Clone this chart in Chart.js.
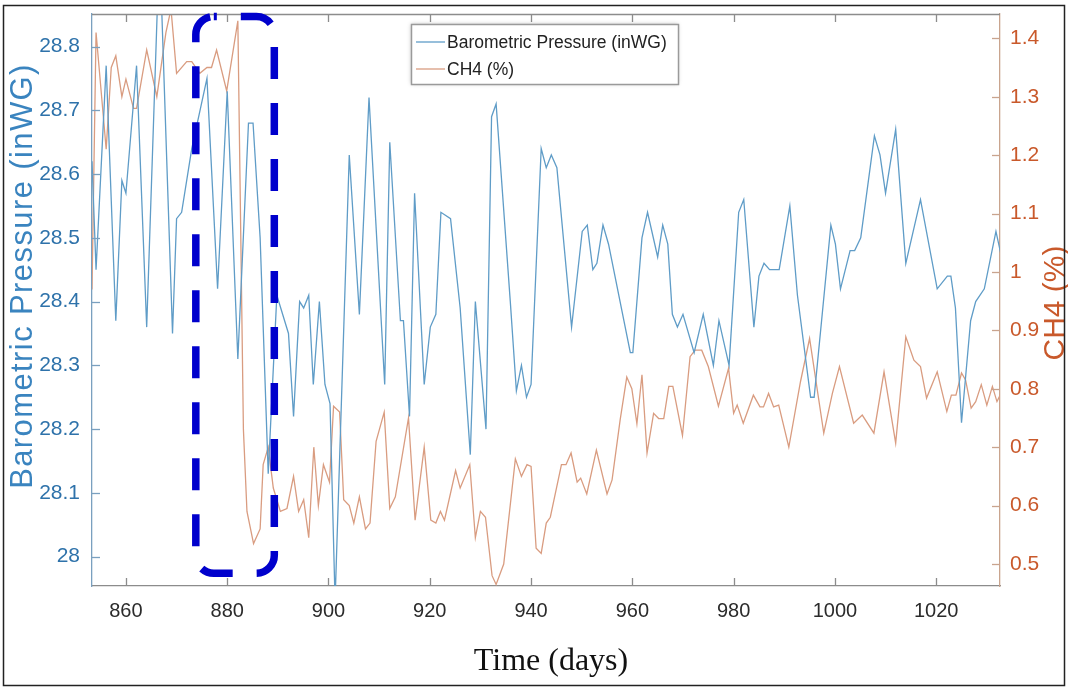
<!DOCTYPE html>
<html lang="en">
<head>
<meta charset="UTF-8">
<title>Barometric Pressure and CH4</title>
<script src="https://cdn.jsdelivr.net/npm/chart.js"></script>
<style>
  body { margin: 0; background: #fff; }
  .chart-container { position: relative; width: 1068px; height: 688px; }
</style>
</head>
<body>
<div class="chart-container"><canvas id="gasChart"></canvas></div>
<script>
// Barometric pressure (inWG) vs time (days)
const daysP = [853.3, 854.1, 856.1, 858.0, 859.2, 860.0, 862.1, 864.1, 866.2, 867.1, 869.2, 870.0, 871.0, 873.0,
  876.0, 878.1, 880.0, 882.1, 884.2, 885.1, 886.5, 888.1, 889.8, 892.1, 893.1, 894.3, 895.1, 896.1, 897.0,
  898.2, 899.3, 900.3, 901.3, 904.1, 906.1, 908.0, 911.1, 912.1, 914.2, 914.8, 916.0, 917.0, 918.9, 920.1,
  921.2, 922.2, 924.1, 926.0, 928.0, 929.0, 931.1, 932.2, 933.1, 935.9, 937.1, 938.1, 939.1, 940.0, 942.0,
  943.0, 944.0, 945.1, 948.0, 950.1, 951.1, 952.2, 953.0, 954.2, 955.3, 959.6, 960.1, 961.9, 963.0, 965.0,
  966.0, 967.0, 967.9, 968.9, 970.0, 972.2, 974.0, 976.0, 977.1, 979.1, 981.0, 982.0, 984.0, 985.0, 986.0,
  987.1, 989.0, 991.1, 992.6, 995.2, 995.9, 999.2, 1000.1, 1001.1, 1003.0, 1003.9, 1005.1, 1007.8, 1008.9,
  1010.0, 1012.0, 1014.0, 1016.9, 1020.2, 1022.2, 1022.9, 1023.8, 1025.0, 1026.8, 1027.8, 1029.5, 1031.8, 1032.9];
const pressure = [28.62, 28.45, 28.77, 28.37, 28.59, 28.57, 28.77, 28.36, 28.86, 28.85, 28.35, 28.53, 28.54, 28.64,
  28.75, 28.42, 28.73, 28.31, 28.68, 28.68, 28.50, 28.13, 28.41, 28.35, 28.22, 28.40, 28.39, 28.41, 28.27,
  28.40, 28.27, 28.24, 27.93, 28.63, 28.38, 28.72, 28.27, 28.65, 28.37, 28.37, 28.22, 28.57, 28.27, 28.36,
  28.38, 28.54, 28.53, 28.39, 28.16, 28.40, 28.20, 28.69, 28.71, 28.40, 28.26, 28.30, 28.25, 28.27, 28.64,
  28.61, 28.63, 28.61, 28.36, 28.51, 28.52, 28.45, 28.46, 28.52, 28.49, 28.32, 28.32, 28.50, 28.54, 28.47,
  28.52, 28.49, 28.38, 28.36, 28.38, 28.32, 28.38, 28.30, 28.37, 28.30, 28.54, 28.56, 28.36, 28.44, 28.46,
  28.45, 28.45, 28.55, 28.41, 28.25, 28.25, 28.52, 28.49, 28.42, 28.48, 28.48, 28.50, 28.66, 28.63,
  28.57, 28.67, 28.46, 28.56, 28.42, 28.44, 28.44, 28.39, 28.21, 28.37, 28.40, 28.42, 28.51, 28.47];

// CH4 (%) vs time (days)
const daysCH4 = [853.3, 854.1, 856.1, 857.1, 858.0, 859.2, 860.0, 861.5, 862.1, 864.1, 866.1, 867.9, 868.9, 870.0,
  872.0, 873.0, 874.6, 876.0, 876.9, 877.9, 879.9, 882.1, 883.2, 883.9, 885.2, 886.5, 887.1, 888.1, 889.1,
  890.5, 891.8, 893.1, 894.1, 895.1, 896.1, 897.1, 898.0, 899.0, 900.2, 901.0, 902.2, 903.0, 904.1, 905.0,
  906.1, 907.3, 908.2, 909.4, 911.0, 912.1, 913.2, 915.8, 917.1, 918.9, 920.2, 921.2, 922.1, 922.9, 925.1,
  926.0, 927.9, 929.0, 930.0, 931.0, 932.3, 933.1, 934.6, 936.9, 938.1, 939.2, 940.0, 941.0, 942.0, 943.0,
  943.8, 946.0, 946.9, 947.9, 949.1, 949.8, 951.0, 952.9, 955.0, 956.0, 957.6, 958.9, 959.9, 960.9, 961.9,
  962.9, 964.2, 965.2, 966.2, 967.2, 968.0, 969.9, 971.4, 972.4, 973.7, 975.0, 977.0, 979.0, 980.0, 980.7,
  981.9, 983.9, 985.2, 985.9, 986.9, 987.9, 988.9, 990.9, 993.2, 995.0, 997.8, 999.5, 1000.9, 1003.7, 1005.4,
  1007.7, 1009.7, 1012.0, 1014.0, 1015.6, 1016.9, 1018.1, 1020.2, 1022.1, 1023.0, 1023.9, 1025.0, 1025.8,
  1026.9, 1027.8, 1028.9, 1030.0, 1031.1, 1032.0, 1032.8];
const ch4 = [0.97, 1.41, 1.21, 1.35, 1.37, 1.30, 1.33, 1.28, 1.28, 1.38, 1.30, 1.41, 1.45, 1.34,
  1.36, 1.36, 1.34, 1.35, 1.35, 1.38, 1.31, 1.43, 0.73, 0.59, 0.535, 0.56, 0.67, 0.70, 0.63,
  0.59, 0.595, 0.65, 0.59, 0.61, 0.545, 0.70, 0.60, 0.67, 0.64, 0.77, 0.76, 0.61, 0.60, 0.57,
  0.615, 0.56, 0.57, 0.71, 0.76, 0.595, 0.615, 0.75, 0.575, 0.70, 0.575, 0.57, 0.59, 0.575, 0.66,
  0.63, 0.67, 0.545, 0.59, 0.58, 0.48, 0.465, 0.50, 0.68, 0.65, 0.67, 0.667, 0.527, 0.518, 0.57,
  0.58, 0.67, 0.67, 0.69, 0.64, 0.647, 0.62, 0.695, 0.62, 0.644, 0.747, 0.82, 0.80, 0.74, 0.824,
  0.69, 0.758, 0.749, 0.749, 0.804, 0.804, 0.72, 0.855, 0.866, 0.866, 0.838, 0.77, 0.835, 0.758, 0.772,
  0.741, 0.789, 0.769, 0.769, 0.792, 0.769, 0.772, 0.70, 0.812, 0.886, 0.724, 0.792, 0.838, 0.741, 0.755,
  0.724, 0.829, 0.707, 0.889, 0.849, 0.838, 0.784, 0.829, 0.761, 0.789, 0.789, 0.827, 0.815,
  0.767, 0.778, 0.807, 0.772, 0.804, 0.778, 0.792];

// highlighted window (days / inWG)
const highlightDays = [873.8, 889.3];
const highlightPressure = [27.974, 28.847];

const bluePressure = '#5f9cc7';
const orangeCH4 = '#d99c80';
const blueText = '#2e72aa';
const orangeText = '#c9592b';

const fmt = v => String(Math.round(v * 10) / 10);

// no extra room for the end tick labels, keep the plot box fixed
const noEdgePadding = s => {
  s.paddingTop = 0; s.paddingBottom = 0;
  s.paddingLeft = 0; s.paddingRight = 0;
};

// MATLAB style box, inward ticks and axis titles
const framePlugin = {
  id: 'frame',
  afterDatasetsDraw(chart) {
    const { ctx, chartArea: a, scales } = chart;
    ctx.save();
    ctx.lineWidth = 1.3;
    ctx.strokeStyle = '#8c8c8c';
    ctx.beginPath();
    ctx.moveTo(a.left, a.top + 0.5);
    ctx.lineTo(a.right, a.top + 0.5);
    ctx.stroke();
    scales.x.ticks.forEach(t => {
      const px = Math.round(scales.x.getPixelForValue(t.value)) + 0.5;
      ctx.beginPath();
      ctx.moveTo(px, a.bottom); ctx.lineTo(px, a.bottom - 8);
      ctx.moveTo(px, a.top); ctx.lineTo(px, a.top + 8);
      ctx.stroke();
    });
    ctx.strokeStyle = '#7aa0bf';
    scales.y.ticks.forEach(t => {
      const py = Math.round(scales.y.getPixelForValue(t.value)) + 0.5;
      ctx.beginPath(); ctx.moveTo(a.left, py); ctx.lineTo(a.left + 8, py); ctx.stroke();
    });
    ctx.strokeStyle = '#c9a48e';
    scales.y1.ticks.forEach(t => {
      const py = Math.round(scales.y1.getPixelForValue(t.value)) + 0.5;
      ctx.beginPath(); ctx.moveTo(a.right, py); ctx.lineTo(a.right - 8, py); ctx.stroke();
    });
    ctx.restore();
  },
  afterDraw(chart) {
    const { ctx, scales } = chart;
    ctx.save();
    // titles
    ctx.textAlign = 'center';
    ctx.textBaseline = 'middle';
    ctx.fillStyle = '#3a84bf';
    ctx.font = '31px "Liberation Sans", Arial, sans-serif';
    ctx.letterSpacing = '1.4px';
    ctx.translate(23, 276);
    ctx.rotate(-Math.PI / 2);
    ctx.fillText('Barometric Pressure (inWG)', 0, 0);
    ctx.letterSpacing = '0px';
    ctx.setTransform(1, 0, 0, 1, 0, 0);
    ctx.fillStyle = orangeText;
    ctx.font = '30px "Liberation Sans", Arial, sans-serif';
    ctx.translate(1056, 303);
    ctx.rotate(-Math.PI / 2);
    ctx.fillText('CH4 (%)', 0, 0);
    ctx.setTransform(1, 0, 0, 1, 0, 0);
    ctx.fillStyle = '#111';
    ctx.font = '32px "Liberation Serif", "Times New Roman", serif';
    ctx.fillText('Time (days)', 551, 662);

    // legend
    const lx = 411, ly = 24, lw = 267, lh = 60;
    ctx.shadowColor = 'rgba(0,0,0,0.25)';
    ctx.shadowBlur = 4;
    ctx.fillStyle = '#fff';
    ctx.fillRect(lx, ly, lw, lh);
    ctx.shadowColor = 'transparent';
    ctx.strokeStyle = '#9a9a9a';
    ctx.lineWidth = 1.5;
    ctx.strokeRect(lx + 0.5, ly + 0.5, lw, lh);
    ctx.font = '17.5px "Liberation Sans", Arial, sans-serif';
    ctx.textAlign = 'left';
    chart.data.datasets.forEach((ds, i) => {
      const y = ly + 18 + i * 27;
      ctx.strokeStyle = ds.borderColor;
      ctx.lineWidth = 1.3;
      ctx.beginPath(); ctx.moveTo(lx + 5, y); ctx.lineTo(lx + 34, y); ctx.stroke();
      ctx.fillStyle = '#222';
      ctx.fillText(ds.label, lx + 36, y + 1);
    });

    // highlighted window
    const x0 = scales.x.getPixelForValue(highlightDays[0]);
    const x1 = scales.x.getPixelForValue(highlightDays[1]);
    const y0 = scales.y.getPixelForValue(highlightPressure[1]);
    const y1 = scales.y.getPixelForValue(highlightPressure[0]);
    ctx.strokeStyle = '#0000cc';
    ctx.lineWidth = 7.5;
    ctx.setLineDash([32, 24]);
    ctx.lineDashOffset = 29;
    ctx.beginPath();
    ctx.roundRect(x0, y0, x1 - x0, y1 - y0, 18);
    ctx.stroke();
    ctx.setLineDash([]);

    // outer frame
    ctx.strokeStyle = '#222';
    ctx.lineWidth = 1.5;
    ctx.strokeRect(3.5, 5.5, 1061, 680);
    ctx.restore();
  }
};

const ctx = document.getElementById('gasChart').getContext('2d');
new Chart(ctx, {
  type: 'line',
  data: {
    datasets: [
      {
        label: 'Barometric Pressure (inWG)',
        data: daysP.map((d, i) => ({ x: d, y: pressure[i] })),
        borderColor: bluePressure,
        borderWidth: 1.3,
        pointRadius: 0,
        tension: 0,
        yAxisID: 'y'
      },
      {
        label: 'CH4 (%)',
        data: daysCH4.map((d, i) => ({ x: d, y: ch4[i] })),
        borderColor: orangeCH4,
        borderWidth: 1.3,
        pointRadius: 0,
        tension: 0,
        yAxisID: 'y1'
      }
    ]
  },
  options: {
    responsive: true,
    maintainAspectRatio: false,
    animation: false,
    layout: { padding: { top: 14, left: 0, right: 0, bottom: 0 } },
    plugins: {
      legend: { display: false },
      tooltip: { enabled: false }
    },
    scales: {
      x: {
        type: 'linear',
        min: 853.3,
        max: 1032.6,
        afterFit: s => { s.height = 102; noEdgePadding(s); },
        grid: { display: false, drawTicks: false },
        border: { display: true, color: '#8c8c8c', width: 1.3 },
        ticks: {
          stepSize: 20,
          includeBounds: false,
          maxRotation: 0,
          padding: 13,
          color: '#2b2b2b',
          font: { family: '"Liberation Sans", Arial, sans-serif', size: 20 },
          callback: v => fmt(v)
        }
      },
      y: {
        position: 'left',
        min: 27.954,
        max: 28.851,
        afterFit: s => { s.width = 92; noEdgePadding(s); },
        grid: { display: false, drawTicks: false },
        border: { display: true, color: '#7aa0bf', width: 1.3 },
        ticks: {
          stepSize: 0.1,
          includeBounds: false,
          padding: 12,
          color: blueText,
          font: { family: '"Liberation Sans", Arial, sans-serif', size: 21 },
          callback: v => fmt(v)
        }
      },
      y1: {
        position: 'right',
        min: 0.4623,
        max: 1.4416,
        afterFit: s => { s.width = 68; noEdgePadding(s); },
        grid: { display: false, drawTicks: false },
        border: { display: true, color: '#c9a48e', width: 1.3 },
        ticks: {
          stepSize: 0.1,
          includeBounds: false,
          padding: 10,
          color: orangeText,
          font: { family: '"Liberation Sans", Arial, sans-serif', size: 21 },
          callback: v => fmt(v)
        }
      }
    }
  },
  plugins: [framePlugin]
});
</script>
</body>
</html>
